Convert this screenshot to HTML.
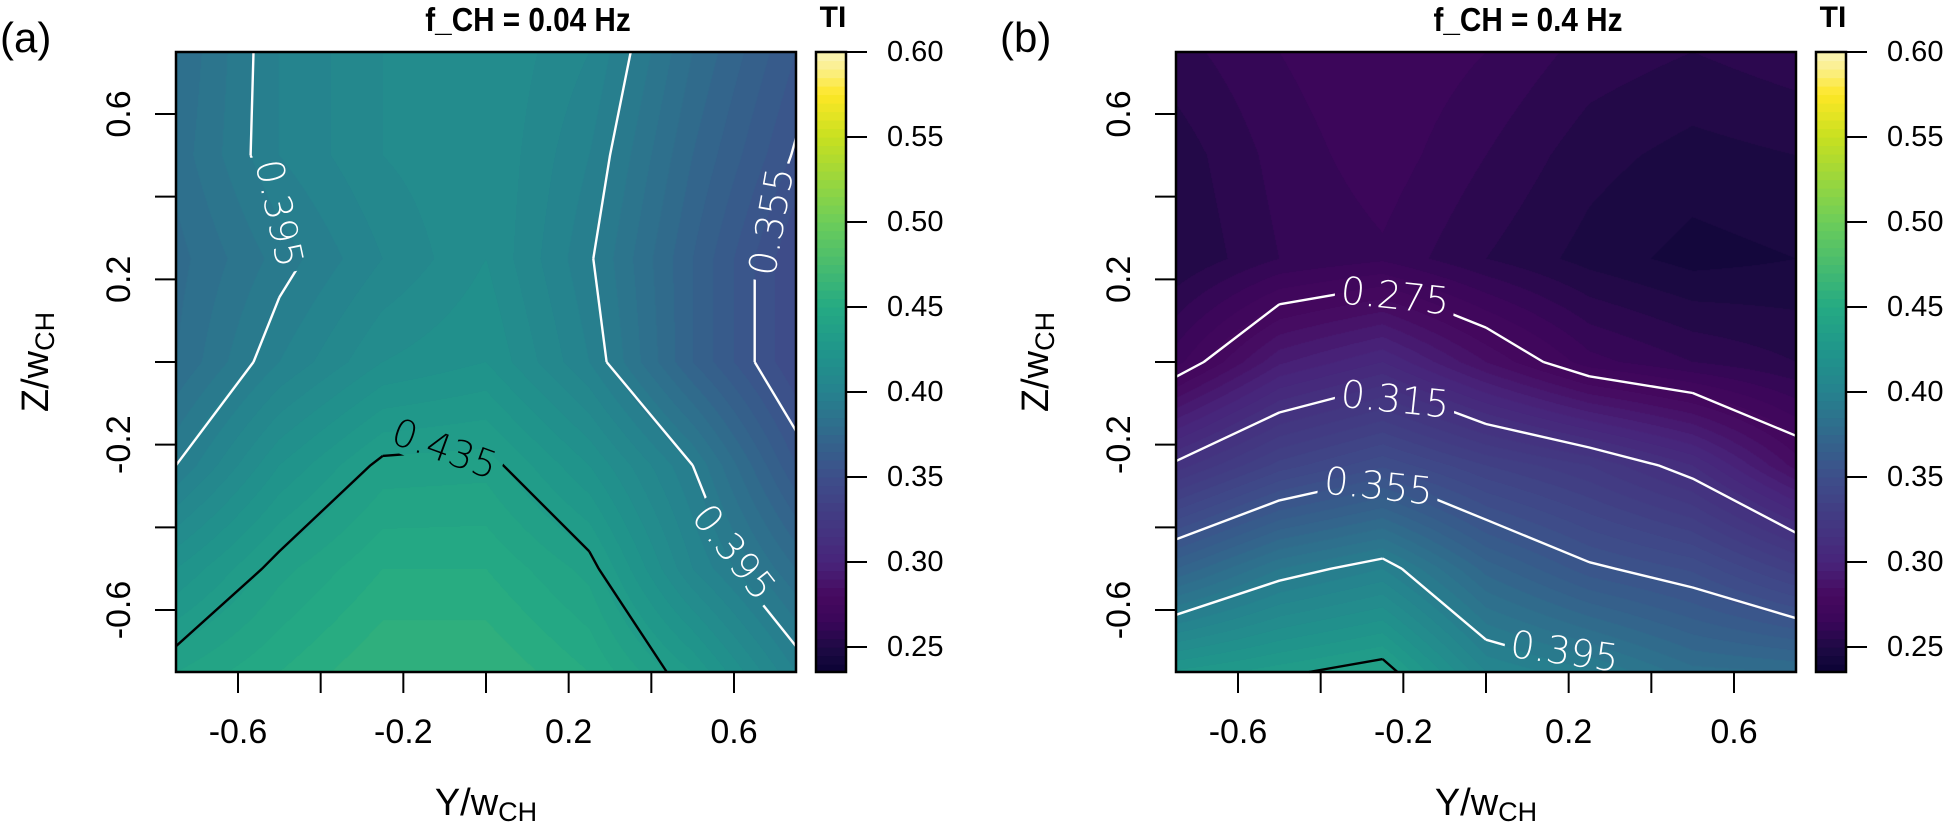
<!DOCTYPE html>
<html><head><meta charset="utf-8">
<style>
html,body{margin:0;padding:0;background:#fff;}
#wrap{position:relative;width:1951px;height:824px;overflow:hidden;background:#fff;}
canvas{position:absolute;}
svg{position:absolute;left:0;top:0;}
text{font-family:"Liberation Sans",sans-serif;}
.clab{font-family:"DejaVu Sans","Liberation Sans",sans-serif;font-weight:200;}
</style></head>
<body>
<div id="wrap">
<canvas id="fillA" width="620" height="620" style="left:176px;top:52px"></canvas>
<canvas id="fillB" width="620" height="620" style="left:1176px;top:52px"></canvas>
<svg id="svg" width="1951" height="824" xmlns="http://www.w3.org/2000/svg"></svg>
</div>
<script>
// ---- data ----
const gridY = [-0.75, -0.5, -0.25, 0, 0.25, 0.5, 0.75];
const gridZ = [0.75, 0.5, 0.25, 0, -0.25, -0.5, -0.75];
const tiA = [
  [0.380, 0.400, 0.410, 0.415, 0.405, 0.380, 0.360],
  [0.382, 0.400, 0.410, 0.415, 0.400, 0.375, 0.354],
  [0.378, 0.392, 0.405, 0.415, 0.396, 0.370, 0.345],
  [0.380, 0.400, 0.415, 0.420, 0.400, 0.370, 0.345],
  [0.395, 0.420, 0.437, 0.438, 0.420, 0.395, 0.360],
  [0.420, 0.438, 0.450, 0.450, 0.438, 0.405, 0.380],
  [0.440, 0.450, 0.460, 0.460, 0.450, 0.430, 0.400]
];
const tiB = [
  [0.258, 0.265, 0.270, 0.265, 0.258, 0.255, 0.258],
  [0.252, 0.262, 0.268, 0.260, 0.252, 0.248, 0.250],
  [0.250, 0.260, 0.264, 0.255, 0.248, 0.243, 0.245],
  [0.268, 0.294, 0.305, 0.285, 0.267, 0.260, 0.255],
  [0.317, 0.337, 0.349, 0.335, 0.325, 0.310, 0.283],
  [0.370, 0.390, 0.400, 0.373, 0.357, 0.349, 0.332],
  [0.426, 0.433, 0.440, 0.405, 0.396, 0.382, 0.380]
];
const levelsA = [0.355, 0.395, 0.435];
const levelsB = [0.275, 0.315, 0.355, 0.395, 0.435];
const labelsA = [
  {t:"0.395", y:-0.50, z:0.36, a:78},
  {t:"0.355", y:0.69, z:0.34, a:-80},
  {t:"0.395", y:0.60, z:-0.46, a:52},
  {t:"0.435", y:-0.10, z:-0.21, a:20}
];
const labelsB = [
  {t:"0.275", y:-0.22, z:0.16, a:6},
  {t:"0.315", y:-0.22, z:-0.09, a:6},
  {t:"0.355", y:-0.26, z:-0.30, a:6},
  {t:"0.395", y:0.19, z:-0.70, a:8}
];
const axisTicks = [-0.6, -0.4, -0.2, 0, 0.2, 0.4, 0.6];
const axisTickLabels = ["-0.6", "", "-0.2", "", "0.2", "", "0.6"];
const cbarTicks = [0.25, 0.30, 0.35, 0.40, 0.45, 0.50, 0.55, 0.60];
const cbarTickLabels = ["0.25", "0.30", "0.35", "0.40", "0.45", "0.50", "0.55", "0.60"];

// ---- scales ----
const PW = 620, TOP = 52, DOM = 1.5, YMIN = -0.75, ZMAX = 0.75;
function xs(v, off){ return off + (v - YMIN) * PW / DOM; }
function ys(v){ return TOP + (ZMAX - v) * PW / DOM; }
const CB_TOP = 52, CB_PX = 1700, CB_MAX = 0.60, CB_LO = 0.235, CB_HI = 0.6015, BAND = 0.005;
function cby(v){ return CB_TOP + (CB_MAX - v) * CB_PX; }

const stops = [
  [0.230,"#0a0330"],[0.237,"#0d0436"],[0.250,"#1e0a45"],[0.265,"#3a0659"],[0.280,"#46095f"],
  [0.300,"#48247a"],[0.350,"#3d4e8a"],[0.400,"#26828e"],[0.425,"#1f968b"],[0.450,"#24aa83"],[0.500,"#6ccd5a"],
  [0.550,"#c8e020"],[0.575,"#fde725"],[0.590,"#fbef8a"],[0.605,"#faf7d0"]
];
function hex(h){ return [parseInt(h.substr(1,2),16),parseInt(h.substr(3,2),16),parseInt(h.substr(5,2),16)]; }
const stopsRGB = stops.map(s => [s[0], hex(s[1])]);
function cmap(v){
  if (v <= stopsRGB[0][0]) return stopsRGB[0][1];
  for (let i = 1; i < stopsRGB.length; i++){
    if (v <= stopsRGB[i][0]){
      const a = stopsRGB[i-1], b = stopsRGB[i], t = (v - a[0])/(b[0]-a[0]);
      return [0,1,2].map(k => Math.round(a[1][k] + t*(b[1][k]-a[1][k])));
    }
  }
  return stopsRGB[stopsRGB.length-1][1];
}
function bandColor(v){
  const b = Math.floor((v - CB_LO)/BAND);
  return cmap(CB_LO + (b + 0.5)*BAND);
}
function interp(grid, Y, Z){
  const n = gridY.length;
  let fx = (Y - gridY[0])/(gridY[n-1]-gridY[0])*(n-1);
  let fz = (gridZ[0] - Z)/(gridZ[0]-gridZ[n-1])*(n-1);
  fx = Math.max(0, Math.min(n-1-1e-9, fx)); fz = Math.max(0, Math.min(n-1-1e-9, fz));
  const i = Math.floor(fx), j = Math.floor(fz), tx = fx - i, tz = fz - j;
  const v00 = grid[j][i], v10 = grid[j][i+1], v01 = grid[j+1][i], v11 = grid[j+1][i+1];
  return v00*(1-tx)*(1-tz) + v10*tx*(1-tz) + v01*(1-tx)*tz + v11*tx*tz;
}
function fillPanel(id, grid){
  const c = document.getElementById(id), ctx = c.getContext('2d');
  const img = ctx.createImageData(PW, PW);
  for (let py = 0; py < PW; py++){
    const Z = ZMAX - (py + 0.5)*DOM/PW;
    for (let px = 0; px < PW; px++){
      const Y = YMIN + (px + 0.5)*DOM/PW;
      const col = bandColor(interp(grid, Y, Z));
      const k = (py*PW + px)*4;
      img.data[k] = col[0]; img.data[k+1] = col[1]; img.data[k+2] = col[2]; img.data[k+3] = 255;
    }
  }
  ctx.putImageData(img, 0, 0);
}
fillPanel('fillA', tiA);
fillPanel('fillB', tiB);

const NS = "http://www.w3.org/2000/svg";
const svg = document.getElementById('svg');
function el(tag, attrs, parent){
  const e = document.createElementNS(NS, tag);
  for (const k in attrs) e.setAttribute(k, attrs[k]);
  (parent || svg).appendChild(e);
  return e;
}
const defs = el('defs', {});

function labelMask(labels, off, tag){
  const m = el('mask', {id:'mask' + tag, maskUnits:'userSpaceOnUse', x:0, y:0, width:1951, height:824}, defs);
  el('rect', {x:0, y:0, width:1951, height:824, fill:'#fff'}, m);
  labels.forEach(L => {
    const x = xs(L.y, off), y = ys(L.z);
    el('rect', {x:-60, y:-20, width:120, height:40, fill:'#000',
      transform:`translate(${x.toFixed(1)},${y.toFixed(1)}) rotate(${L.a})`}, m);
  });
}
function contours(grid, levels, off, g, tag){
  const n = gridY.length;
  const lg = el('g', {mask:`url(#mask${tag})`}, g);
  
  
  levels.forEach(lv => {
    const color = lv >= 0.43 ? "#000" : "#fff";
    let d = "";
    for (let j = 0; j < n-1; j++) for (let i = 0; i < n-1; i++){
      const c = [[gridY[i],gridZ[j],grid[j][i]],[gridY[i+1],gridZ[j],grid[j][i+1]],
                 [gridY[i+1],gridZ[j+1],grid[j+1][i+1]],[gridY[i],gridZ[j+1],grid[j+1][i]]];
      const pts = [];
      for (let e = 0; e < 4; e++){
        const a = c[e], b = c[(e+1)%4];
        if ((a[2] < lv) !== (b[2] < lv)){
          const t = (lv - a[2])/(b[2]-a[2]);
          pts.push([a[0]+t*(b[0]-a[0]), a[1]+t*(b[1]-a[1])]);
        }
      }
      for (let p = 0; p+1 < pts.length; p += 2){
        d += "M" + xs(pts[p][0],off).toFixed(1) + " " + ys(pts[p][1]).toFixed(1) +
             "L" + xs(pts[p+1][0],off).toFixed(1) + " " + ys(pts[p+1][1]).toFixed(1);
      }
    }
    const path = el('path', {d:d, stroke:color, 'stroke-width':2.4, fill:'none', 'stroke-linejoin':'round'}, lg);
    
    
  });
}
function contourLabels(labels, off, g){
  labels.forEach(L => {
    const x = xs(L.y, off), y = ys(L.z);
    const t = el('text', {x:0, y:0, transform:`translate(${x.toFixed(1)},${y.toFixed(1)}) rotate(${L.a})`,
      'text-anchor':'middle', 'dominant-baseline':'central', 'font-size':38, class:'clab',
      fill: parseFloat(L.t) >= 0.43 ? "#000" : "#fff"}, g);
    t.textContent = L.t;
    
    
  });
}
function panel(off, grid, levels, labels, title, tag){
  const g = el('g', {});
  
  
  labelMask(labels, off, tag);
  contours(grid, levels, off, g, tag);
  contourLabels(labels, off, g);
  const frame = el('rect', {x:off, y:TOP, width:PW, height:PW, fill:'none', stroke:'#000', 'stroke-width':2.5}, g);
  
  
  axisTicks.forEach((v, i) => {
    const x = xs(v, off);
    const tk = el('line', {x1:x, x2:x, y1:TOP+PW, y2:TOP+PW+21, stroke:'#000', 'stroke-width':2}, g);
    
    
    if (axisTickLabels[i]){
      const t = el('text', {x:x, y:743, 'text-anchor':'middle', 'font-size':34}, g);
      t.textContent = axisTickLabels[i];
      
      
    }
    const y = ys(v);
    const tk2 = el('line', {x1:off-21, x2:off, y1:y, y2:y, stroke:'#000', 'stroke-width':2}, g);
    
    
    if (axisTickLabels[i]){
      const t = el('text', {x:0, y:0, transform:`translate(${off-46},${y}) rotate(-90)`, 'text-anchor':'middle', 'font-size':34}, g);
      t.textContent = axisTickLabels[i];
      
      
    }
  });
  const xt = el('text', {x:off+PW/2, y:815, 'text-anchor':'middle', 'font-size':38}, g);
  xt.innerHTML = 'Y/w<tspan font-size="27" dy="6">CH</tspan>';
  
  
  const yt = el('text', {x:0, y:0, transform:`translate(${off-128},${TOP+PW/2}) rotate(-90)`, 'text-anchor':'middle', 'font-size':38}, g);
  yt.innerHTML = 'Z/w<tspan font-size="27" dy="6">CH</tspan>';
  
  
  const tcx = off + 352;
  const tt = el('text', {x:tcx, y:31, 'text-anchor':'middle', 'font-size':33, 'font-weight':'bold', transform:`translate(${(tcx*0.1).toFixed(1)},0) scale(0.9,1)`}, g);
  tt.textContent = title;
  
  
  const pl = el('text', {x:off-176, y:52, 'font-size':42}, g);
  pl.textContent = '(' + tag + ')';
  
  
  const cx = off + 640, cw = 30;
  const cb = el('g', {}, g);
  
  
  for (let v = CB_LO; v < CB_HI; v += BAND){
    const y1 = Math.max(CB_TOP, cby(Math.min(v + BAND, CB_HI))), y2 = Math.min(CB_TOP + PW, cby(v));
    const col = cmap(v + BAND/2);
    const r = el('rect', {x:cx, y:y1.toFixed(2), width:cw, height:(y2-y1+0.6).toFixed(2), fill:`rgb(${col[0]},${col[1]},${col[2]})`}, cb);
    
    
  }
  el('rect', {x:cx, y:CB_TOP, width:cw, height:PW, fill:'none', stroke:'#000', 'stroke-width':2.5}, cb);
  cbarTicks.forEach((v, i) => {
    const y = cby(v);
    const tk = el('line', {x1:cx+cw, x2:cx+cw+21, y1:y, y2:y, stroke:'#000', 'stroke-width':2}, cb);
    
    
    const t = el('text', {x:cx+71, y:y, 'dominant-baseline':'central', 'font-size':29}, cb);
    t.textContent = cbarTickLabels[i];
    
    
  });
  const ti = el('text', {x:cx+cw/2+2, y:27, 'text-anchor':'middle', 'font-size':30, 'font-weight':'bold'}, cb);
  ti.textContent = 'TI';
  
  
}
panel(176, tiA, levelsA, labelsA, 'f_CH = 0.04 Hz', 'a');
panel(1176, tiB, levelsB, labelsB, 'f_CH = 0.4 Hz', 'b');
</script>
</body></html>
